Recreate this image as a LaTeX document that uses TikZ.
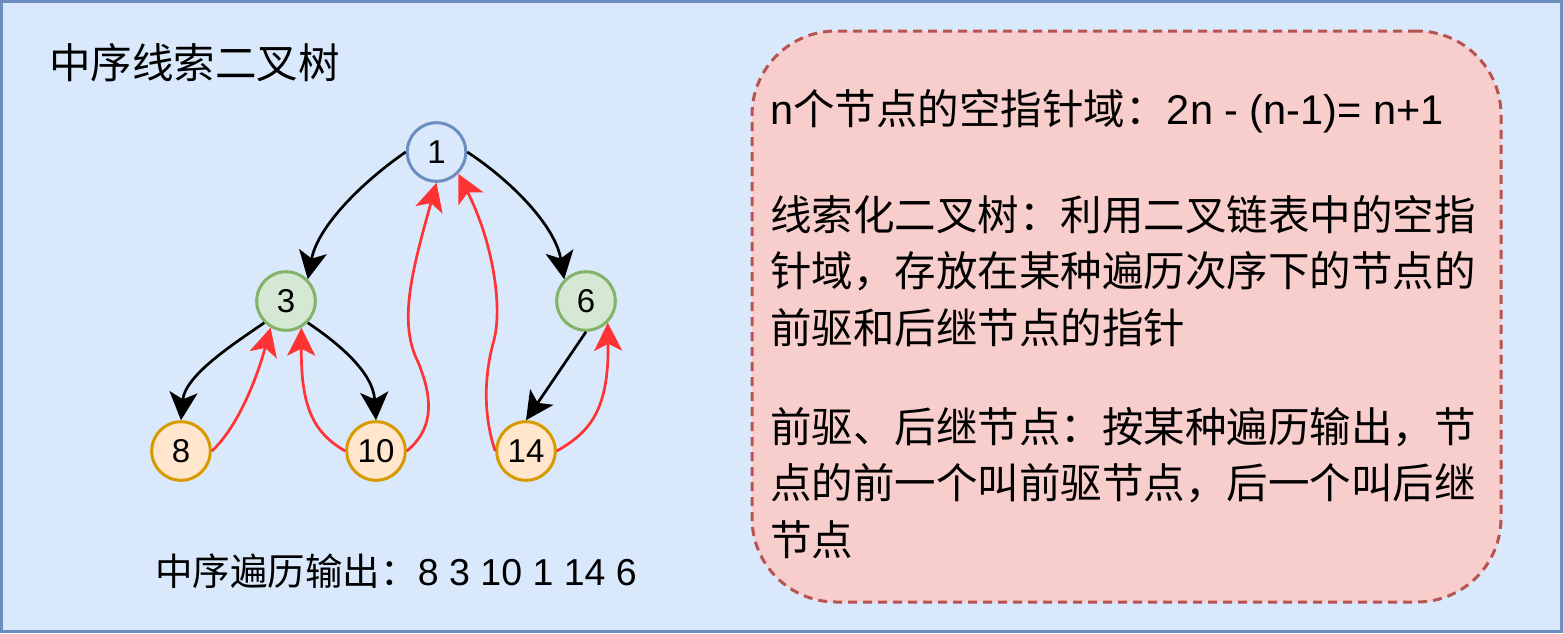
\documentclass[tikz,border=0pt]{standalone}
\usepackage{fontspec}
\setmainfont{Liberation Sans}
\newfontfamily\cjk{Noto Sans CJK SC}
\newcommand{\zh}[1]{{\cjk #1}}
\usetikzlibrary{arrows.meta, positioning}
\definecolor{bgblue}{HTML}{DAE8FC}
\definecolor{bgline}{HTML}{6C8EBF}
\definecolor{midfill}{HTML}{D5E8D4}
\definecolor{midline}{HTML}{82B366}
\definecolor{leaffill}{HTML}{FFE6CC}
\definecolor{leafline}{HTML}{D79B00}
\definecolor{notefill}{HTML}{F8CECC}
\definecolor{noteline}{HTML}{B85450}
\definecolor{threadred}{HTML}{FF3333}
\tikzstyle{treenode} = [circle, minimum size=29.3pt, inner sep=0pt, line width=1.5pt, font=\fontsize{16.5pt}{18pt}\selectfont]
\tikzstyle{rootnode} = [treenode, draw=bgline, fill=bgblue]
\tikzstyle{midnode} = [treenode, draw=midline, fill=midfill]
\tikzstyle{leafnode} = [treenode, draw=leafline, fill=leaffill]
\tikzstyle{treeedge} = [line width=1.35pt, -{Stealth[length=14pt, width=14pt, inset=3.5pt]}]
\tikzstyle{threadedge} = [treeedge, color=threadred]
\tikzstyle{notebox} = [rectangle, rounded corners=42pt, minimum width=374.5pt, minimum height=285.5pt, draw=noteline, fill=notefill, line width=1.5pt, dash pattern=on 4.5pt off 3pt]
\tikzstyle{notetext} = [inner sep=0pt, anchor=base west, align=left, font=\fontsize{20.75pt}{28.25pt}\selectfont]

\begin{document}
\begin{tikzpicture}[x=0.5pt, y=-0.5pt]
\useasboundingbox (0,0) rectangle (1563,633);
\draw [line width=1.5pt, draw=bgline, fill=bgblue] (1.5,1.5) rectangle (1561.5,631.5);
% title and output
\node (title) [inner sep=0pt, anchor=base west, font=\cjk\fontsize{20.75pt}{25pt}\selectfont] at (49,78) {中序线索二叉树};
\node (inorder) [inner sep=0pt, anchor=base west, font=\fontsize{18.75pt}{22pt}\selectfont] at (155,585) {\zh{中序遍历输出：}8 3 10 1 14 6};
% tree
\node (n1) [rootnode] at (436.5,152) {1};
\node (n3) [midnode] at (286,301) {3};
\node (n6) [midnode] at (586,301) {6};
\node (n8) [leafnode] at (181,451) {8};
\node (n10) [leafnode] at (376,451) {10};
\node (n14) [leafnode] at (526,451) {14};
\draw [treeedge] (n1.west) .. controls (365,180) and (318,225) .. (n3.north east);
\draw [treeedge] (n1.east) .. controls (510,180) and (555,225) .. (n6.north west);
\draw [treeedge] (n3.south west) .. controls (235,343) and (185,375) .. (n8.north);
\draw [treeedge] (n3.south east) .. controls (338,343) and (373,372) .. (n10.north);
\draw [treeedge] (n6.south) -- (n14.north);
% threads
\draw [threadedge] (n8.east) .. controls (235,430) and (255,385) .. (n3.-120);
\draw [threadedge] (n10.west) .. controls (312,432) and (301,405) .. (n3.-60);
\draw [threadedge] (n10.east) .. controls (430,432) and (436,405) .. (418,362) .. controls (398,322) and (412,271) .. (n1.south);
\draw [threadedge] (n14.west) .. controls (483,415) and (484,375) .. (494,340) .. controls (503,305) and (492,240) .. (n1.-45);
\draw [threadedge] (n14.east) .. controls (590,432) and (609,410) .. (n6.-45);
% note (base = last line)
\node (note) [notebox] at (1126.5,316.5) {};
\node (fact) [notetext] at (770,124) {n\zh{个节点的空指针域：}2n - (n-1)= n+1};
\node (define) [notetext] at (770,343) {\zh{线索化二叉树：利用二叉链表中的空指}\\\zh{针域，存放在某种遍历次序下的节点的}\\\zh{前驱和后继节点的指针}};
\node (order) [notetext] at (770,555) {\zh{前驱、后继节点：按某种遍历输出，节}\\\zh{点的前一个叫前驱节点，后一个叫后继}\\\zh{节点}};
\end{tikzpicture}
\end{document}
